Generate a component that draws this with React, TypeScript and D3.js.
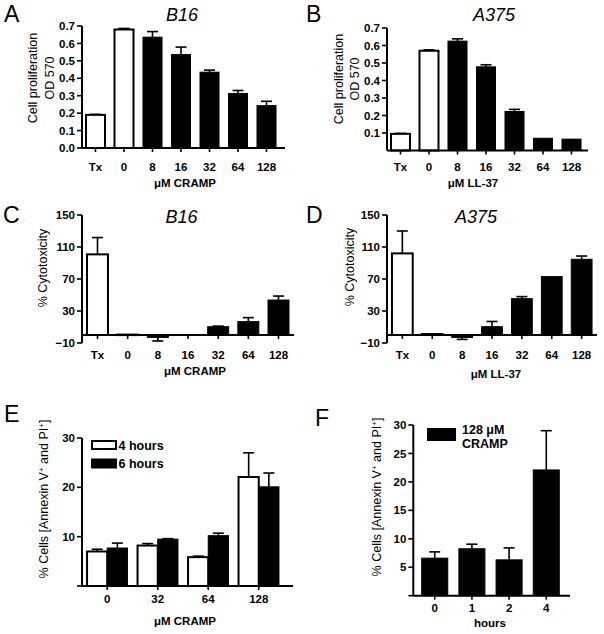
import React, { useEffect } from "react";
import * as d3 from "d3";

// ---------- DATA ----------
const abCategories = ["Tx", "0", "8", "16", "32", "64", "128"];
const aValues = [0.19, 0.68, 0.636, 0.536, 0.435, 0.313, 0.243];
const aErrors = [0.003, 0.006, 0.032, 0.043, 0.012, 0.017, 0.025];
const bValues = [0.095, 0.57, 0.625, 0.478, 0.223, 0.07, 0.065];
const bErrors = [0.003, 0.005, 0.013, 0.012, 0.012, 0, 0];
const cValues = [100.8, 0.5, -3, -0.4, 10.4, 16.7, 43.7];
const cErrors = [21, 0, 4.5, 0, 0.7, 5, 5];
const dValues = [102, 1.2, -3, 10.4, 45.4, 73, 94.6];
const dErrors = [28, 0, 2.5, 6.5, 2.6, 0, 4.1];
const eCategories = ["0", "32", "64", "128"];
const eSeries = ["4 hours", "6 hours"];
const e4hValues = [7.0, 8.2, 5.85, 22.1];
const e4hErrors = [0.45, 0.4, 0.2, 4.9];
const e6hValues = [7.7, 9.5, 10.2, 20.1];
const e6hErrors = [1.0, 0.1, 0.5, 2.8];
const fCategories = ["0", "1", "2", "4"];
const fValues = [6.6, 8.25, 6.3, 22.1];
const fErrors = [1.1, 0.8, 2.1, 6.9];
const abTicks = [0, 0.1, 0.2, 0.3, 0.4, 0.5, 0.6, 0.7];
const bTicks = [0.1, 0.2, 0.3, 0.4, 0.5, 0.6, 0.7];
const cdTicks = [-10, 30, 70, 110, 150];
const eTicks = [0, 10, 20, 30];
const fTicks = [0, 5, 10, 15, 20, 25, 30];

const FONT = "'Liberation Sans', Arial, Helvetica, sans-serif";
const TICK_FS = 11.5;

type Bar = { x: number; w: number; v: number; e: number; white: boolean };

function Bars({ bars, y }: { bars: Bar[]; y: any }) {
  const y0 = y(0);
  return (
    <g>
      {bars.map((b, i) => {
        const yt = y(b.v);
        const top = Math.min(yt, y0);
        const h = Math.max(Math.abs(yt - y0), 0.5);
        const cx = b.x + b.w / 2;
        const ye = y(b.v + (b.v >= 0 ? b.e : -b.e));
        return (
          <g key={i}>
            {b.e > 0 && (
              <g stroke="#000" strokeWidth={1.6}>
                <line x1={cx} x2={cx} y1={yt} y2={ye} />
                <line x1={cx - 5.5} x2={cx + 5.5} y1={ye} y2={ye} />
              </g>
            )}
            <rect
              x={b.x}
              y={top}
              width={b.w}
              height={h}
              fill={b.white ? "#fff" : "#000"}
              stroke="#000"
              strokeWidth={b.white ? 2 : 1}
            />
          </g>
        );
      })}
    </g>
  );
}

function YAxis({ x, y, ticks, fmt, hide, lo, hi }: any) {
  return (
    <g>
      <line x1={x} x2={x} y1={y(lo)} y2={y(hi)} stroke="#000" strokeWidth={2} />
      {ticks.map((t: number) => (
        <g key={t}>
          <line x1={x - 5} x2={x} y1={y(t)} y2={y(t)} stroke="#000" strokeWidth={1.6} />
          {!(hide && hide.includes(t)) && (
            <text
              x={x - 7}
              y={y(t)}
              dy="0.36em"
              textAnchor="end"
              fontFamily={FONT}
              fontWeight="bold"
              fontSize={TICK_FS}
            >
              {fmt(t)}
            </text>
          )}
        </g>
      ))}
    </g>
  );
}

function XAxis({ x1, x2, y, centers, labels, labelY }: any) {
  return (
    <g>
      <line x1={x1} x2={x2} y1={y} y2={y} stroke="#000" strokeWidth={2} />
      {centers.map((c: number, i: number) => (
        <g key={i}>
          <line x1={c} x2={c} y1={y} y2={y + 4} stroke="#000" strokeWidth={1.6} />
          <text
            x={c}
            y={labelY}
            textAnchor="middle"
            fontFamily={FONT}
            fontWeight="bold"
            fontSize={TICK_FS}
          >
            {labels[i]}
          </text>
        </g>
      ))}
    </g>
  );
}

function VLabel({ cx, cy, children, fs = 12.5 }: any) {
  return (
    <text
      transform={`translate(${cx},${cy}) rotate(-90)`}
      dy="0.36em"
      textAnchor="middle"
      fontFamily={FONT}
      fontSize={fs}
    >
      {children}
    </text>
  );
}

function Txt({ x, y, children, fs = 12, bold = false, italic = false, anchor = "start" }: any) {
  return (
    <text
      x={x}
      y={y}
      textAnchor={anchor}
      fontFamily={FONT}
      fontSize={fs}
      fontWeight={bold ? "bold" : "normal"}
      fontStyle={italic ? "italic" : "normal"}
    >
      {children}
    </text>
  );
}

function simpleBars(scale: any, cats: string[], vals: number[], errs: number[]): Bar[] {
  return cats.map((c, i) => ({
    x: scale(c),
    w: scale.bandwidth(),
    v: vals[i],
    e: errs[i],
    white: i < 2,
  }));
}

const superPlus = (
  <tspan baselineShift="super" fontSize="8">
    +
  </tspan>
);

function AnnexinLabel({ cx, cy }: any) {
  return (
    <VLabel cx={cx} cy={cy} fs={12.5}>
      % Cells [Annexin V{superPlus} and PI{superPlus}]
    </VLabel>
  );
}

export default function App() {
  useEffect(() => {
    document.body.style.margin = "0";
  }, []);

  // Panel A
  const yA = d3.scaleLinear().domain([0, 0.7]).range([148, 26]);
  const xA = d3.scaleBand().domain(abCategories).range([82, 280]).paddingInner(0.333).paddingOuter(0.14);
  // Panel B
  const yB = d3.scaleLinear().domain([0, 0.7]).range([150.5, 28]);
  const xB = d3.scaleBand().domain(abCategories).range([387, 585]).paddingInner(0.333).paddingOuter(0.14);
  // Panel C
  const yC = d3.scaleLinear().domain([-10, 150]).range([343, 215]);
  const xC = d3.scaleBand().domain(abCategories).range([82, 294]).paddingInner(0.305).paddingOuter(0.166);
  // Panel D
  const yD = d3.scaleLinear().domain([-10, 150]).range([343, 215]);
  const xD = d3.scaleBand().domain(abCategories).range([387, 597]).paddingInner(0.305).paddingOuter(0.166);
  // Panel E
  const yE = d3.scaleLinear().domain([0, 30]).range([586, 438]);
  const xE = d3.scaleBand().domain(eCategories).range([82, 284]).paddingInner(0.2).paddingOuter(0.1);
  const xEi = d3.scaleBand().domain(eSeries).range([0, xE.bandwidth()]).padding(0);
  // Panel F
  const yF = d3.scaleLinear().domain([0, 30]).range([595.7, 425]);
  const xF = d3.scaleBand().domain(fCategories).range([413.3, 567.7]).paddingInner(0.3).paddingOuter(0.226);

  const centers = (s: any, cats: string[]) => cats.map((c) => (s(c) as number) + s.bandwidth() / 2);

  const eBars: Bar[] = [];
  eCategories.forEach((c, i) => {
    eBars.push({ x: (xE(c) as number) + (xEi(eSeries[0]) as number), w: xEi.bandwidth(), v: e4hValues[i], e: e4hErrors[i], white: true });
    eBars.push({ x: (xE(c) as number) + (xEi(eSeries[1]) as number), w: xEi.bandwidth(), v: e6hValues[i], e: e6hErrors[i], white: false });
  });
  const fBars: Bar[] = fCategories.map((c, i) => ({
    x: xF(c) as number,
    w: xF.bandwidth(),
    v: fValues[i],
    e: fErrors[i],
    white: false,
  }));

  const f1 = d3.format(".1f");
  const f0 = d3.format("d");

  return (
    <div style={{ position: "absolute", left: 0, top: 0 }}>
      <svg width={604} height={634} style={{ display: "block", background: "#fff" }}>
        <rect width={604} height={634} fill="#fff" />

        {/* ===== Panel A ===== */}
        <Txt x={4} y={22} fs={23}>A</Txt>
        <Txt x={182} y={20.5} fs={18} italic anchor="middle">B16</Txt>
        <VLabel cx={32.5} cy={78}>Cell proliferation</VLabel>
        <VLabel cx={49} cy={78}>OD 570</VLabel>
        <Bars bars={simpleBars(xA, abCategories, aValues, aErrors)} y={yA} />
        <YAxis x={82} y={yA} ticks={abTicks} fmt={f1} lo={0} hi={0.7} />
        <XAxis x1={82} x2={285} y={yA(0)} centers={centers(xA, abCategories)} labels={abCategories} labelY={171} />
        <Txt x={185} y={187} fs={11.5} bold anchor="middle">μM CRAMP</Txt>

        {/* ===== Panel B ===== */}
        <Txt x={306} y={21.5} fs={23}>B</Txt>
        <Txt x={494} y={20.5} fs={18} italic anchor="middle">A375</Txt>
        <VLabel cx={338} cy={79}>Cell proliferation</VLabel>
        <VLabel cx={354} cy={79}>OD 570</VLabel>
        <Bars bars={simpleBars(xB, abCategories, bValues, bErrors)} y={yB} />
        <YAxis x={387} y={yB} ticks={bTicks} fmt={f1} lo={0} hi={0.7} />
        <XAxis x1={387} x2={588} y={yB(0)} centers={centers(xB, abCategories)} labels={abCategories} labelY={171} />
        <Txt x={473} y={187} fs={11.5} bold anchor="middle">μM LL-37</Txt>

        {/* ===== Panel C ===== */}
        <Txt x={3} y={223} fs={23}>C</Txt>
        <Txt x={181.5} y={222.5} fs={18} italic anchor="middle">B16</Txt>
        <VLabel cx={42.5} cy={268}>% Cytotoxicity</VLabel>
        <Bars bars={simpleBars(xC, abCategories, cValues, cErrors)} y={yC} />
        <YAxis x={82} y={yC} ticks={cdTicks} fmt={f0} lo={-10} hi={150} />
        <XAxis x1={82} x2={294} y={yC(0)} centers={centers(xC, abCategories)} labels={abCategories} labelY={359} />
        <Txt x={195} y={375} fs={11.5} bold anchor="middle">μM CRAMP</Txt>

        {/* ===== Panel D ===== */}
        <Txt x={306} y={223} fs={23}>D</Txt>
        <Txt x={476} y={222.5} fs={18} italic anchor="middle">A375</Txt>
        <VLabel cx={349} cy={267}>% Cytotoxicity</VLabel>
        <Bars bars={simpleBars(xD, abCategories, dValues, dErrors)} y={yD} />
        <YAxis x={387} y={yD} ticks={cdTicks} fmt={f0} lo={-10} hi={150} />
        <XAxis x1={387} x2={597} y={yD(0)} centers={centers(xD, abCategories)} labels={abCategories} labelY={358.5} />
        <Txt x={496} y={378} fs={11.5} bold anchor="middle">μM LL-37</Txt>

        {/* ===== Panel E ===== */}
        <Txt x={4} y={422} fs={23}>E</Txt>
        <AnnexinLabel cx={43} cy={499} />
        <Bars bars={eBars} y={yE} />
        <YAxis x={82} y={yE} ticks={eTicks} fmt={f0} hide={[0]} lo={0} hi={30} />
        <XAxis x1={82} x2={293} y={yE(0)} centers={centers(xE, eCategories)} labels={eCategories} labelY={603} />
        <Txt x={185} y={625} fs={11.5} bold anchor="middle">μM CRAMP</Txt>
        <rect x={92} y={441} width={24} height={8} fill="#fff" stroke="#000" strokeWidth={2} />
        <rect x={91} y={458.5} width={26} height={10} fill="#000" />
        <Txt x={118.5} y={449.5} fs={12.5} bold>{eSeries[0]}</Txt>
        <Txt x={118.5} y={467.5} fs={12.5} bold>{eSeries[1]}</Txt>

        {/* ===== Panel F ===== */}
        <Txt x={315} y={426} fs={23}>F</Txt>
        <AnnexinLabel cx={376} cy={497} />
        <Bars bars={fBars} y={yF} />
        <YAxis x={413.3} y={yF} ticks={fTicks} fmt={f0} hide={[0]} lo={0} hi={30} />
        <XAxis x1={413.3} x2={570} y={yF(0)} centers={centers(xF, fCategories)} labels={fCategories} labelY={612} />
        <Txt x={490} y={627} fs={11.5} bold anchor="middle">hours</Txt>
        <rect x={427} y={428} width={29} height={13} fill="#000" />
        <Txt x={462} y={433.5} fs={12.5} bold>128 μM</Txt>
        <Txt x={462} y={447.5} fs={12.5} bold>CRAMP</Txt>
      </svg>
    </div>
  );
}
